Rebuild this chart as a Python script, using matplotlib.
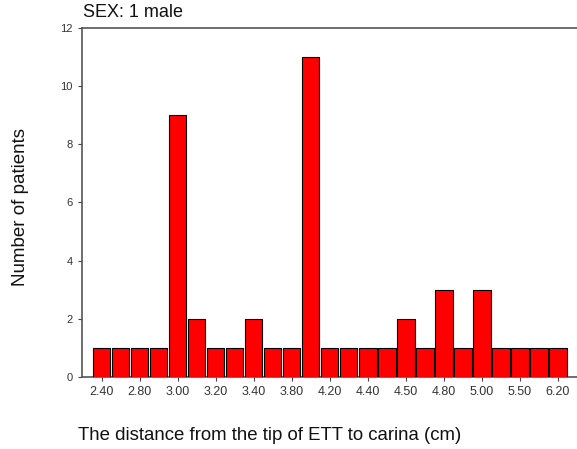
import matplotlib
matplotlib.use("Agg")
import matplotlib.pyplot as plt

plt.rcParams['font.family'] = ['Liberation Sans', 'DejaVu Sans']

categories = ["2.40", "2.50", "2.80", "2.90", "3.00", "3.10", "3.20", "3.30", "3.40", "3.50",
              "3.80", "4.00", "4.20", "4.30", "4.40", "4.45", "4.50", "4.60", "4.80", "4.90",
              "5.00", "5.20", "5.50", "6.00", "6.20"]
counts = [1, 1, 1, 1, 9, 2, 1, 1, 2, 1, 1, 11, 1, 1, 1, 1, 2, 1, 3, 1, 3, 1, 1, 1, 1]
yticks = [0, 2, 4, 6, 8, 10, 12]

fig = plt.figure(figsize=(5.77, 4.49), dpi=100)
ax = fig.add_axes([0.142, 0.160, 0.858, 0.778])
x = list(range(len(categories)))
ax.bar(x, counts, width=0.9, color='#FF0000', edgecolor='black', linewidth=0.8, zorder=3)

ax.set_xlim(-1.05, 25.0)
ax.set_ylim(0, 12)
ax.set_yticks(yticks)
ax.set_yticklabels([str(v) for v in yticks], fontsize=8)
ax.set_xticks(x[::2])
ax.set_xticklabels(categories[::2], fontsize=9)
ax.tick_params(axis='both', length=3, width=0.8, color='#444444', colors='#333333')
for s in ['left', 'bottom', 'top']:
    ax.spines[s].set_color('#555555')
    ax.spines[s].set_linewidth(1.2)
ax.spines['right'].set_visible(False)

fig.text(0.035, 0.540, 'Number of patients', fontsize=13.5, rotation=90,
         ha='center', va='center', color='#111111')
fig.text(0.468, 0.031, 'The distance from the tip of ETT to carina (cm)', fontsize=13.4,
         ha='center', va='center', color='#111111')
fig.text(0.144, 0.972, 'SEX: 1 male', fontsize=13, ha='left', va='center', color='#111111')

fig.savefig('out.png', dpi=100)
